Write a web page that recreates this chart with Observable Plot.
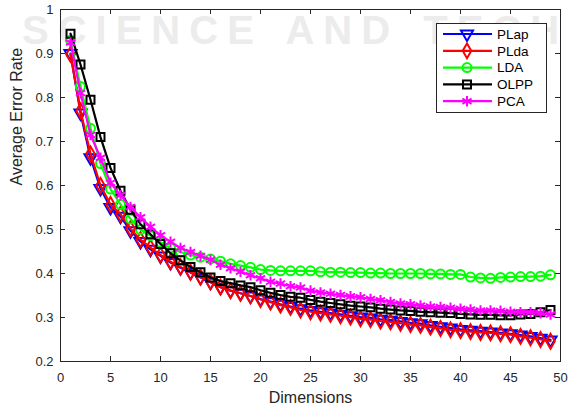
<!DOCTYPE html>
<html><head><meta charset="utf-8">
<script src="https://cdn.jsdelivr.net/npm/d3@7"></script>
<script src="https://cdn.jsdelivr.net/npm/@observablehq/plot@0.6"></script>
<style>
body{margin:0;background:#fff;}
#wrap{position:relative;width:569px;height:408px;font-family:"Liberation Sans",Arial,sans-serif;overflow:hidden;}
#wm{position:absolute;left:22px;top:10px;font-size:40px;line-height:1;font-weight:bold;color:#ececec;letter-spacing:9px;word-spacing:4px;white-space:nowrap;}
#chart{position:absolute;left:0;top:0;}
#legend{position:absolute;left:436px;top:23px;}
</style></head><body>
<div id="wrap"><div id="wm">SCIENCE AND TECHNOLOGY</div><div id="chart"></div><svg id="legend" width="111" height="90"></svg></div>
<script>
const dims = [1,2,3,4,5,6,7,8,9,10,11,12,13,14,15,16,17,18,19,20,21,22,23,24,25,26,27,28,29,30,31,32,33,34,35,36,37,38,39,40,41,42,43,44,45,46,47,48,49];
const PLap = [0.900,0.765,0.663,0.593,0.550,0.530,0.497,0.473,0.455,0.440,0.425,0.413,0.402,0.391,0.380,0.369,0.361,0.355,0.349,0.342,0.336,0.330,0.325,0.320,0.316,0.313,0.310,0.307,0.304,0.301,0.299,0.296,0.294,0.291,0.288,0.286,0.282,0.279,0.276,0.273,0.271,0.269,0.267,0.265,0.263,0.260,0.257,0.253,0.249];
const PLda = [0.898,0.770,0.672,0.600,0.557,0.535,0.502,0.477,0.459,0.442,0.427,0.415,0.403,0.392,0.381,0.369,0.361,0.355,0.349,0.341,0.335,0.328,0.323,0.317,0.313,0.310,0.307,0.304,0.301,0.297,0.295,0.292,0.290,0.287,0.284,0.282,0.278,0.275,0.272,0.270,0.268,0.266,0.265,0.263,0.261,0.257,0.254,0.250,0.246];
const LDA  = [0.930,0.825,0.730,0.650,0.592,0.557,0.524,0.500,0.486,0.471,0.458,0.449,0.442,0.437,0.433,0.428,0.422,0.418,0.414,0.409,0.407,0.406,0.406,0.406,0.406,0.404,0.403,0.403,0.402,0.402,0.401,0.401,0.400,0.400,0.400,0.400,0.399,0.399,0.398,0.398,0.392,0.390,0.389,0.391,0.392,0.393,0.393,0.394,0.397];
const OLPP = [0.945,0.875,0.795,0.710,0.640,0.588,0.545,0.512,0.489,0.467,0.446,0.430,0.415,0.403,0.391,0.383,0.378,0.373,0.369,0.362,0.356,0.351,0.347,0.345,0.340,0.336,0.333,0.330,0.327,0.325,0.323,0.320,0.318,0.316,0.315,0.313,0.312,0.311,0.310,0.308,0.307,0.306,0.306,0.305,0.305,0.307,0.308,0.312,0.317];
const PCA  = [0.925,0.810,0.715,0.663,0.606,0.578,0.551,0.528,0.506,0.487,0.472,0.458,0.449,0.440,0.431,0.420,0.412,0.404,0.396,0.389,0.381,0.377,0.371,0.368,0.361,0.357,0.354,0.351,0.348,0.346,0.342,0.339,0.335,0.332,0.330,0.327,0.325,0.324,0.322,0.320,0.318,0.316,0.316,0.315,0.313,0.312,0.312,0.310,0.307];
const names = ["PLap","PLda","LDA","OLPP","PCA"];
const colors = ["#0000ff","#ff0000","#00ff00","#000000","#ff00ff"];
const symbols = ["triangle","diamond","circle","square","asterisk"];
const xTicks = [0,5,10,15,20,25,30,35,40,45,50];
const yTicks = [0.2,0.3,0.4,0.5,0.6,0.7,0.8,0.9,1];
const xLabel = "Dimensions";
const yLabel = "Average Error Rate";

const W = 569, H = 408, mL = 60, mR = 9, mT = 9, mB = 47;
const pw = W - mL - mR, ph = H - mT - mB, tk = 5;
const valuesBy = [PLap, PLda, LDA, OLPP, PCA];
const rot = {triangle: 180};
const axisColor = "#262626";
const font = "'Liberation Sans', Arial, sans-serif";
const rOf = s => s === "asterisk" ? 5 : 4.5;

const marks = [];
valuesBy.forEach((vals, k) => {
  const data = dims.map((d, i) => ({x: d, y: vals[i]}));
  marks.push(Plot.line(data, {x: "x", y: "y", stroke: colors[k], strokeWidth: 2.2}));
  marks.push(Plot.dot(data, {x: "x", y: "y", stroke: colors[k], fill: "none", strokeWidth: 2,
    symbol: symbols[k], r: rOf(symbols[k]), rotate: rot[symbols[k]] || 0}));
});

const chart = Plot.plot({
  width: W, height: H, marginLeft: mL, marginRight: mR, marginTop: mT, marginBottom: mB,
  style: {background: "transparent", fontFamily: font, fontSize: "13px", color: axisColor},
  x: {domain: [0, 50]},
  y: {domain: [0.2, 1]},
  marks: [
    ...marks,
    Plot.frame({stroke: axisColor, strokeWidth: 1}),
    Plot.ruleX(xTicks, {x: d => d, stroke: axisColor, insetTop: ph - tk}),
    Plot.ruleX(xTicks, {x: d => d, stroke: axisColor, insetBottom: ph - tk}),
    Plot.ruleY(yTicks, {y: d => d, stroke: axisColor, insetRight: pw - tk}),
    Plot.ruleY(yTicks, {y: d => d, stroke: axisColor, insetLeft: pw - tk}),
    Plot.axisX({ticks: xTicks, tickSize: 0, tickPadding: 11, tickFormat: d => String(d), fontSize: 13, label: null}),
    Plot.axisY({ticks: yTicks, tickSize: 0, tickPadding: 7, tickFormat: d => String(d), fontSize: 13, label: null}),
    Plot.text([xLabel], {text: d => d, frameAnchor: "bottom", dy: 41, fontSize: 16, fill: axisColor}),
    Plot.text([yLabel], {text: d => d, frameAnchor: "left", dx: -44, rotate: -90, fontSize: 16, fill: axisColor})
  ]
});
document.getElementById("chart").appendChild(chart);

// legend
const lg = d3.select("#legend");
lg.append("rect").attr("x", 0.5).attr("y", 0.5).attr("width", 110).attr("height", 89)
  .attr("fill", "#fff").attr("stroke", axisColor);
const symMap = {triangle: d3.symbolTriangle, diamond: d3.symbolDiamond, circle: d3.symbolCircle, square: d3.symbolSquare, asterisk: d3.symbolAsterisk};
names.forEach((n, k) => {
  const y = 11 + k * 16.8;
  const g = lg.append("g").attr("transform", `translate(0,${y})`);
  g.append("line").attr("x1", 7).attr("x2", 56).attr("stroke", colors[k]).attr("stroke-width", 2.2);
  const r = rOf(symbols[k]);
  g.append("path").attr("d", d3.symbol(symMap[symbols[k]], Math.PI * r * r)())
    .attr("transform", `translate(31,0) rotate(${rot[symbols[k]] || 0})`)
    .attr("fill", "none").attr("stroke", colors[k]).attr("stroke-width", 2);
  g.append("text").attr("x", 61).attr("y", 0).attr("dy", "0.35em")
    .attr("font-family", font).attr("font-size", 13.5)
    .attr("fill", "#000").text(n);
});
</script>
</body></html>
